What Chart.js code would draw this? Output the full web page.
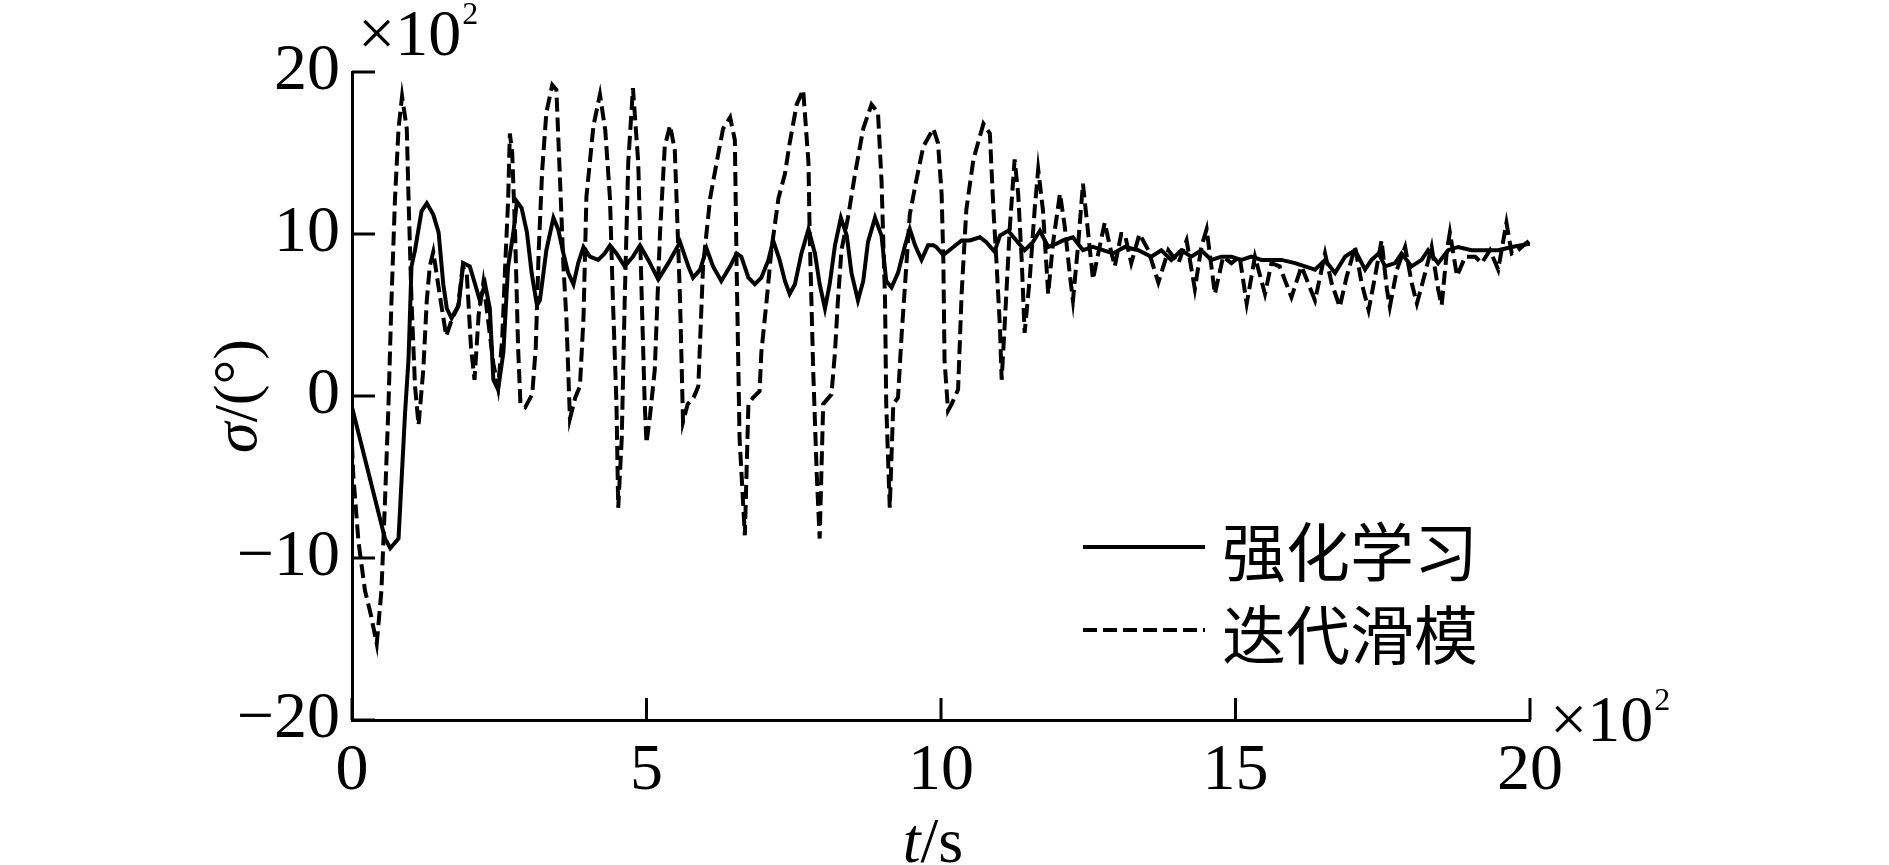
<!DOCTYPE html>
<html>
<head>
<meta charset="utf-8">
<script src="https://cdn.jsdelivr.net/npm/chart.js@4.4.1/dist/chart.umd.min.js"></script>
<style>
  html, body { margin: 0; padding: 0; background: #fff; }
  #wrap { width: 1889px; height: 865px; }
</style>
</head>
<body>
<div id="wrap"><canvas id="grafica" width="1889" height="865"></canvas></div>
<script>
// t (x10^2 s) y sigma (x10^2 grados)
let tRL = [
  0, 0.56, 0.65, 0.79, 0.9, 0.96, 1.01, 1.07, 1.18, 1.27,
  1.38, 1.47, 1.55, 1.61, 1.69, 1.81, 1.89, 2.0, 2.09, 2.17,
  2.26, 2.34, 2.4, 2.48, 2.57, 2.65, 2.74, 2.8, 2.88, 2.97,
  3.05, 3.14, 3.19, 3.3, 3.42, 3.5, 3.59, 3.67, 3.76, 3.84,
  3.93, 4.04, 4.18, 4.29, 4.38, 4.49, 4.63, 4.77, 4.89, 5.03,
  5.2, 5.37, 5.57, 5.71, 5.79, 5.91, 6.02, 6.13, 6.27, 6.42,
  6.53, 6.61, 6.73, 6.84, 6.95, 7.07, 7.15, 7.26, 7.35, 7.43,
  7.52, 7.63, 7.75, 7.86, 7.94, 8.03, 8.11, 8.2, 8.3, 8.4,
  8.48, 8.59, 8.68, 8.76, 8.88, 8.99, 9.07, 9.16, 9.27, 9.39,
  9.47, 9.56, 9.67, 9.78, 9.87, 9.92, 10.04, 10.21, 10.35, 10.49,
  10.66, 10.77, 10.91, 11.0, 11.14, 11.28, 11.42, 11.56, 11.68, 11.82,
  11.96, 12.07, 12.24, 12.41, 12.58, 12.75, 12.92, 13.12, 13.35, 13.57,
  13.74, 13.91, 14.08, 14.25, 14.42, 14.59, 14.76, 14.93, 15.1, 15.27,
  15.44, 15.61, 15.78, 16.01, 16.18, 16.35, 16.52, 16.69, 16.86, 17.03,
  17.2, 17.31, 17.43, 17.54, 17.71, 17.82, 17.99, 18.16, 18.27, 18.44,
  18.61, 18.78, 19.01, 19.24, 19.46, 19.69, 20.0
];
let sigmaRL = [
  -0.7, -8.8, -9.4, -8.8, -1.1, 2.3, 8.0, 9.0, 11.4, 11.9,
  11.2, 10.1, 6.9, 5.4, 4.8, 5.6, 8.2, 8.0, 6.9, 5.9,
  6.9, 5.4, 1.0, 0.4, 2.7, 8.0, 10.1, 12.0, 11.6, 10.1,
  7.6, 5.6, 5.9, 9.0, 11.0, 10.3, 8.8, 7.6, 6.9, 8.2,
  9.2, 8.6, 8.4, 8.8, 9.3, 8.8, 8.0, 8.6, 9.3, 8.4,
  7.2, 8.2, 9.5, 8.0, 7.3, 7.8, 9.1, 8.0, 7.1, 8.0,
  8.8, 8.6, 7.3, 6.9, 7.3, 8.4, 9.6, 8.4, 7.1, 6.3,
  6.9, 8.8, 10.3, 8.8, 6.9, 5.4, 6.9, 9.3, 11.0, 9.9,
  7.6, 5.9, 7.1, 9.5, 11.0, 9.9, 7.1, 6.7, 7.6, 9.3,
  10.3, 9.3, 8.4, 9.3, 9.3, 9.2, 8.7, 9.2, 9.6, 9.6,
  9.8, 9.5, 8.9, 9.9, 10.2, 9.6, 9.0, 9.5, 10.2, 9.2,
  9.4, 9.6, 9.8, 9.0, 9.2, 9.0, 8.8, 9.2, 9.0, 8.6,
  9.0, 8.4, 9.0, 8.6, 9.0, 8.4, 8.6, 8.6, 8.4, 8.6,
  8.4, 8.4, 8.4, 8.2, 8.0, 7.8, 8.4, 7.6, 8.6, 9.0,
  7.8, 8.4, 8.8, 8.0, 8.2, 8.8, 8.0, 8.4, 9.0, 8.2,
  9.0, 9.2, 9.0, 9.0, 9.0, 9.2, 9.4
];

let tSM = [
  0, 0.02, 0.11, 0.22, 0.32, 0.42, 0.5, 0.56, 0.62, 0.67,
  0.73, 0.79, 0.85, 0.93, 0.96, 1.01, 1.07, 1.13, 1.21, 1.27,
  1.32, 1.38, 1.5, 1.6, 1.7, 1.8, 1.88, 1.95, 2.02, 2.08,
  2.15, 2.23, 2.3, 2.4, 2.48, 2.55, 2.6, 2.65, 2.68, 2.72,
  2.77, 2.82, 2.86, 2.94, 3.06, 3.12, 3.17, 3.23, 3.3, 3.4,
  3.47, 3.53, 3.59, 3.64, 3.7, 3.79, 3.87, 3.93, 3.98, 4.1,
  4.21, 4.3, 4.38, 4.43, 4.49, 4.52, 4.58, 4.63, 4.69, 4.77,
  4.86, 4.92, 4.97, 5.0, 5.06, 5.14, 5.23, 5.31, 5.4, 5.48,
  5.51, 5.57, 5.62, 5.7, 5.8, 5.88, 5.96, 6.08, 6.19, 6.3,
  6.42, 6.5, 6.53, 6.58, 6.67, 6.73, 6.81, 6.92, 6.95, 7.04,
  7.12, 7.24, 7.35, 7.43, 7.55, 7.66, 7.75, 7.77, 7.83, 7.89,
  7.94, 8.0, 8.14, 8.2, 8.25, 8.31, 8.42, 8.54, 8.68, 8.82,
  8.93, 8.99, 9.05, 9.07, 9.13, 9.19, 9.27, 9.33, 9.39, 9.47,
  9.58, 9.7, 9.87, 9.95, 10.01, 10.04, 10.06, 10.12, 10.18, 10.29,
  10.35, 10.43, 10.55, 10.72, 10.83, 10.89, 10.94, 11.0, 11.03, 11.08,
  11.17, 11.25, 11.31, 11.37, 11.42, 11.51, 11.59, 11.65, 11.73, 11.82,
  11.9, 12.02, 12.1, 12.19, 12.24, 12.33, 12.41, 12.5, 12.58, 12.67,
  12.78, 12.87, 12.95, 13.06, 13.12, 13.23, 13.37, 13.52, 13.69, 13.86,
  14.03, 14.17, 14.31, 14.42, 14.51, 14.65, 14.79, 14.93, 15.07, 15.19,
  15.33, 15.5, 15.61, 15.75, 15.95, 16.12, 16.35, 16.52, 16.63, 16.77,
  16.89, 17.03, 17.14, 17.26, 17.37, 17.48, 17.57, 17.62, 17.74, 17.88,
  17.99, 18.08, 18.22, 18.33, 18.44, 18.5, 18.59, 18.64, 18.76, 18.9,
  19.07, 19.18, 19.32, 19.46, 19.6, 19.69, 19.8, 19.92, 20.0
];
let sigmaSM = [
  -3.0, -4.8, -9.0, -12.0, -13.5, -15.3, -12.0, -6.5, -0.5, 5.9,
  12.2, 16.5, 18.5, 16.5, 12.2, 5.9, 0.6, -1.8, 1.6, 5.9,
  8.0, 8.9, 6.0, 3.7, 4.8, 5.5, 8.0, 7.5, 3.0, 1.0,
  5.0, 7.0, 5.0, 2.0, 0.5, 3.5, 8.0, 12.0, 16.2, 15.0,
  10.0, 3.0, -0.5, -0.7, 0.1, 3.0, 9.0, 14.0, 17.5, 19.2,
  18.9, 13.5, 8.0, 4.8, -1.4, -0.1, 0.6, 4.8, 12.3, 16.7,
  18.6, 16.4, 12.2, 5.9, -0.5, -6.9, -2.6, 5.9, 14.4, 19.0,
  14.4, 5.9, -0.5, -2.9, -1.2, 1.6, 10.1, 15.4, 16.7, 15.2,
  12.2, 5.9, -1.6, -0.5, -0.1, 0.6, 8.0, 12.2, 14.4, 16.5,
  17.2, 15.8, 8.0, -2.6, -8.6, -0.5, -0.1, 0.3, 2.7, 5.9,
  9.0, 12.2, 13.7, 15.6, 18.0, 18.9, 14.4, 10.1, 1.6, -4.8,
  -8.8, -0.5, 0.1, 2.7, 5.9, 9.0, 11.0, 13.7, 16.5, 18.0,
  17.5, 13.3, 5.9, -0.5, -6.9, -0.5, -0.1, 3.7, 6.9, 11.2,
  13.3, 15.4, 16.5, 15.6, 12.5, 8.4, 2.2, -0.9, -0.5, 0.4,
  6.3, 11.5, 14.6, 16.8, 16.2, 11.5, 8.4, 4.3, 1.0, 4.3,
  10.5, 14.6, 12.5, 8.4, 3.9, 7.4, 11.5, 14.0, 11.5, 6.3,
  9.4, 12.5, 10.5, 7.4, 5.9, 9.4, 13.1, 10.0, 7.2, 8.8,
  10.7, 9.2, 8.0, 10.0, 10.0, 8.2, 10.0, 9.0, 7.0, 9.0,
  8.2, 9.6, 6.6, 9.2, 10.3, 6.3, 8.6, 8.2, 8.6, 5.7,
  8.6, 6.3, 8.2, 8.0, 6.1, 8.0, 5.9, 8.8, 7.0, 5.5,
  7.4, 9.2, 7.0, 5.3, 7.4, 9.6, 6.6, 5.5, 7.8, 9.2,
  7.0, 5.7, 7.6, 9.2, 6.6, 5.6, 9.0, 10.1, 7.4, 8.6,
  8.6, 8.2, 9.0, 7.8, 10.7, 8.8, 9.0, 9.4, 9.6
];

let ticksX = [0, 5, 10, 15, 20];
let ticksY = [-20, -10, 0, 10, 20];
let nombres = ['强化学习', '迭代滑模'];

const SERIF = '"Liberation Serif", "Times New Roman", serif';
const CJK = '"Noto Sans CJK SC", sans-serif';

function unirPuntos(arrX, arrY) {
  let datos = [];
  for (let i = 0; i < arrX.length; i++) {
    datos.push({x: arrX[i], y: arrY[i]});
  }
  return datos;
}

// escribe "x10^2" con el exponente pequeño
function potencia(ctx, x, y) {
  ctx.font = '66px ' + SERIF;
  ctx.textAlign = 'left';
  ctx.textBaseline = 'alphabetic';
  ctx.fillText('×10', x, y);
  let w = ctx.measureText('×10').width;
  ctx.font = '32px ' + SERIF;
  ctx.fillText('2', x + w + 1, y - 31);
}

// ticks hacia dentro, titulos, leyenda y factores de escala
const extras = {
  id: 'extras',
  afterDraw(chart) {
    const ctx = chart.ctx;
    const sx = chart.scales.x, sy = chart.scales.y;
    const area = chart.chartArea;
    ctx.save();
    ctx.strokeStyle = '#000';
    ctx.fillStyle = '#000';
    ctx.lineWidth = 3;
    ctx.beginPath();
    ticksY.forEach(v => {
      let py = sy.getPixelForValue(v);
      ctx.moveTo(area.left, py);
      ctx.lineTo(area.left + 23, py);
    });
    ticksX.forEach(v => {
      let px = sx.getPixelForValue(v);
      ctx.moveTo(px, area.bottom);
      ctx.lineTo(px, area.bottom - 22);
    });
    ctx.stroke();

    potencia(ctx, 358, 55);
    potencia(ctx, 1550, 741);

    // titulo eje x: t/s
    ctx.textBaseline = 'alphabetic';
    ctx.textAlign = 'left';
    ctx.font = 'italic 64px ' + SERIF;
    let wT = ctx.measureText('t').width;
    ctx.font = '64px ' + SERIF;
    let wR = ctx.measureText('/s').width;
    let x0 = (area.left + area.right) / 2 - 8 - (wT + wR) / 2;
    ctx.font = 'italic 64px ' + SERIF;
    ctx.fillText('t', x0, 862);
    ctx.font = '64px ' + SERIF;
    ctx.fillText('/s', x0 + wT, 862);

    // titulo eje y: sigma/(grados)
    ctx.save();
    ctx.translate(256, (area.top + area.bottom) / 2);
    ctx.rotate(-Math.PI / 2);
    ctx.font = 'italic 62px ' + SERIF;
    let wS = ctx.measureText('σ').width;
    ctx.font = '62px ' + SERIF;
    let wG = ctx.measureText('/(°)').width;
    let y0 = -(wS + wG) / 2;
    ctx.font = 'italic 62px ' + SERIF;
    ctx.fillText('σ', y0, 0);
    ctx.font = '62px ' + SERIF;
    ctx.fillText('/(°)', y0 + wS, 0);
    ctx.restore();

    // leyenda
    const filas = [547, 630];
    chart.data.datasets.forEach((ds, i) => {
      ctx.save();
      ctx.lineWidth = 4;
      ctx.setLineDash(ds.borderDash || []);
      ctx.beginPath();
      ctx.moveTo(1083, filas[i]);
      ctx.lineTo(1205, filas[i]);
      ctx.stroke();
      ctx.restore();
      ctx.font = '64px ' + CJK;
      ctx.textBaseline = 'middle';
      ctx.fillText(ds.label, 1222, filas[i] + 5);
    });
    ctx.restore();
  }
};

let grafica = new Chart(document.getElementById('grafica'), {
  type: 'line',
  data: {
    datasets: [{
      label: nombres[0],
      data: unirPuntos(tRL, sigmaRL),
      borderColor: '#000',
      borderWidth: 4,
      pointRadius: 0,
      tension: 0,
      fill: false
    }, {
      label: nombres[1],
      data: unirPuntos(tSM, sigmaSM),
      borderColor: '#000',
      borderWidth: 4,
      borderDash: [14, 6],
      pointRadius: 0,
      tension: 0,
      fill: false
    }]
  },
  options: {
    responsive: false,
    animation: false,
    devicePixelRatio: 1,
    layout: { padding: { left: 0, top: 72, right: 359, bottom: 0 } },
    plugins: {
      legend: { display: false },
      tooltip: { enabled: false }
    },
    scales: {
      x: {
        type: 'linear',
        min: 0,
        max: 20,
        afterFit: (s) => { s.height = 145; },
        afterBuildTicks: (s) => { s.ticks = ticksX.map(v => ({value: v})); },
        grid: { display: false, drawTicks: false },
        border: { display: true, color: '#000', width: 3 },
        ticks: {
          color: '#000',
          padding: 12,
          maxRotation: 0,
          font: { family: SERIF, size: 66 }
        }
      },
      y: {
        min: -20,
        max: 20,
        afterFit: (s) => { s.width = 352; },
        afterBuildTicks: (s) => { s.ticks = ticksY.map(v => ({value: v})); },
        grid: { display: false, drawTicks: false },
        border: { display: true, color: '#000', width: 3 },
        ticks: {
          color: '#000',
          padding: 12,
          font: { family: SERIF, size: 66 },
          callback: (v) => (v < 0 ? '−' + Math.abs(v) : '' + v)
        }
      }
    }
  },
  plugins: [extras]
});
</script>
</body>
</html>
